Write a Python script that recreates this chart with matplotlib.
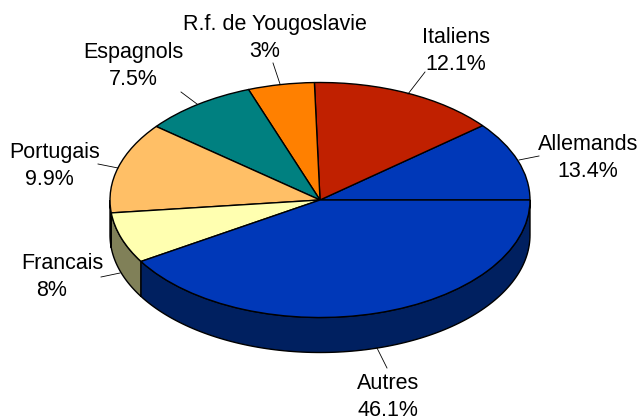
import numpy as np
import matplotlib
matplotlib.use("Agg")
import matplotlib.pyplot as plt

plt.rcParams['font.family'] = ['Liberation Sans', 'DejaVu Sans']

categories = ['Allemands', 'Italiens', 'R.f. de Yougoslavie', 'Espagnols', 'Portugais', 'Francais', 'Autres']
percent_labels = ['13.4%', '12.1%', '3%', '7.5%', '9.9%', '8%', '46.1%']
# slice sizes as drawn in the picture, they differ from the printed percentages
drawn_shares = [10.9, 14.5, 5.1, 8.7, 12.5, 7.0, 41.2]
top_colors = ['#0038B8', '#C02000', '#FF8000', '#008080', '#FFBF66', '#FFFFB0', '#0038B8']
side_colors = ['#002060', '#601000', '#804000', '#004040', '#806033', '#808058', '#002060']

CX, CY = 320, 200
RX, RY = 210, 117.5
DEPTH = 35 / RY

# centre of each label block and its leader line, in image pixels
label_pos = [(588, 158), (456, 51), (270, 38), (133, 66), (55, 166), (61, 277), (388, 397)]
name_shift = [0, 0, 5, 0, 0, 1, 0]
pct_shift = [0, 0, -5, 0, -6, -9, 0]
leaders = [((519, 160), (539, 156)), ((408, 94), (425, 72)), ((280, 84), (273, 63)),
           ((197, 104), (181, 92)), ((118, 168), (98, 164)), ((120, 273), (101, 277)),
           ((377, 348), (387, 368))]


def px(x, y):
    """Image pixels to data units of the squashed unit pie."""
    return (x - CX) / RX, (CY - y) / RY


fig = plt.figure(figsize=(6.39, 4.18), dpi=100)
ax = fig.add_axes([0, 0, 1, 1])

# side wall first, only the front half (180 to 360 degrees) can be seen
angles = np.concatenate([[0], np.cumsum(drawn_shares)]) / sum(drawn_shares) * 360
for i in range(len(drawn_shares)):
    a0, a1 = max(angles[i], 180), max(angles[i + 1], 180)
    if a1 <= a0:
        continue
    t = np.radians(np.linspace(a0, a1, 120))
    xs = np.concatenate([np.cos(t), np.cos(t[::-1])])
    ys = np.concatenate([np.sin(t), np.sin(t[::-1]) - DEPTH])
    ax.fill(xs, ys, facecolor=side_colors[i], edgecolor='black', linewidth=1, zorder=1)

wedges, _ = ax.pie(drawn_shares, colors=top_colors, startangle=0, counterclock=True,
                   radius=1, wedgeprops={'edgecolor': 'black', 'linewidth': 1})
for w in wedges:
    w.set_zorder(2)

ax.set_aspect('auto')
ax.set_xlim(px(0, 0)[0], px(639, 0)[0])
ax.set_ylim(px(0, 418)[1], px(0, 0)[1])
ax.axis('off')

for i, name in enumerate(categories):
    lx, ly = label_pos[i]
    x, y = px(lx + name_shift[i], ly - 13.5)
    ax.text(x, y, name, fontsize=15.5, ha='center', va='center', color='black', zorder=4, clip_on=False)
    x, y = px(lx + pct_shift[i], ly + 13.5)
    ax.text(x, y, percent_labels[i], fontsize=15.5, ha='center', va='center', color='black', zorder=4, clip_on=False)
    (x0, y0), (x1, y1) = leaders[i]
    p0, p1 = px(x0, y0), px(x1, y1)
    ax.plot([p0[0], p1[0]], [p0[1], p1[1]], color='black', linewidth=0.6, zorder=3)

fig.savefig('out.png', dpi=100, facecolor='white')
